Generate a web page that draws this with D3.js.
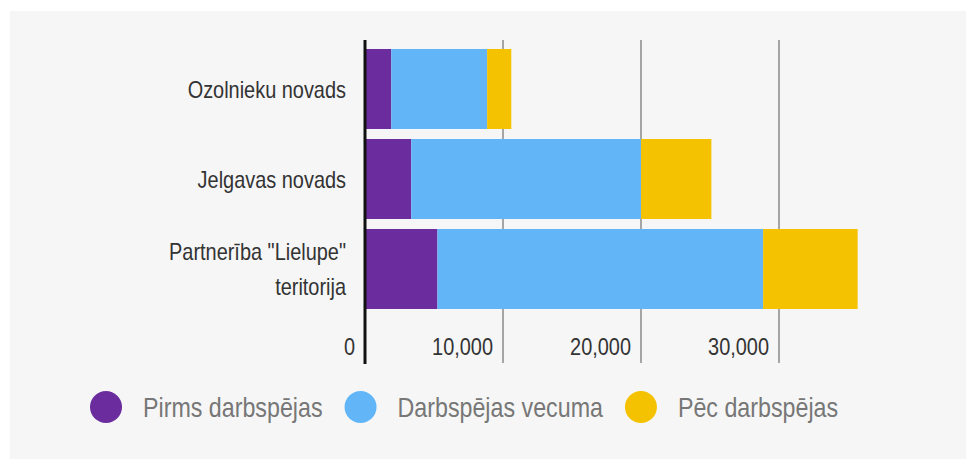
<!DOCTYPE html>
<html>
<head>
<meta charset="utf-8">
<script src="https://cdn.jsdelivr.net/npm/d3@7"></script>
<style>
  html, body { margin: 0; padding: 0; background: #fff; }
  svg text { font-family: "Liberation Sans", Arial, sans-serif; }
</style>
</head>
<body>
<svg id="chart"></svg>
<script>
var categories = ["Ozolnieku novads", "Jelgavas novads", "Partnerība \"Lielupe\" teritorija"];
var seriesNames = ["Pirms darbspējas", "Darbspējas vecuma", "Pēc darbspējas"];
var beforeWork = [1900, 3350, 5250];
var workingAge = [6950, 16650, 23600];
var afterWork = [1750, 5100, 6850];
var xTicks = [0, 10000, 20000, 30000];

var colors = ["#6b2c9e", "#62b6f7", "#f4c200"];

var width = 966, height = 459;
var narrow = 0.83; // squeeze text like a condensed face

var svg = d3.select("#chart")
   .attr("width", width)
   .attr("height", height);

// squeeze text horizontally, keeps it as real text
function condense(sel) {
   sel.each(function() {
      var len = this.getComputedTextLength();
      d3.select(this)
         .attr("textLength", len * narrow)
         .attr("lengthAdjust", "spacingAndGlyphs");
   });
}

// light panel behind the chart
svg.append("rect")
   .attr("x", 10)
   .attr("y", 11)
   .attr("width", width - 10)
   .attr("height", height - 11)
   .attr("fill", "#f6f6f6");

var x = d3.scaleLinear()
   .domain([0, 40000])
   .range([365, 917]);

var y = d3.scaleBand()
   .domain(categories)
   .range([44, 314])
   .paddingInner(10 / 90)
   .paddingOuter(5 / 90);

var rows = categories.map(function(c, i) {
   return { cat: c, values: [beforeWork[i], workingAge[i], afterWork[i]] };
});

var stack = d3.stack().keys([0, 1, 2]).value(function(d, k) { return d.values[k]; });
var layers = stack(rows);

// gridlines
svg.append("g")
   .selectAll("line")
   .data(xTicks.slice(1))
   .enter().append("line")
   .attr("x1", function(d) { return x(d); })
   .attr("x2", function(d) { return x(d); })
   .attr("y1", 40)
   .attr("y2", 363)
   .style("stroke", "#8a8a8a")
   .style("stroke-width", 1.5);

// bars
svg.append("g")
   .selectAll("g")
   .data(layers)
   .enter().append("g")
   .attr("fill", function(d, i) { return colors[i]; })
   .selectAll("rect")
   .data(function(d) { return d; })
   .enter().append("rect")
   .attr("x", function(d) { return x(d[0]); })
   .attr("y", function(d) { return y(d.data.cat); })
   .attr("width", function(d) { return x(d[1]) - x(d[0]); })
   .attr("height", y.bandwidth());

// zero axis
svg.append("line")
   .attr("x1", x(0))
   .attr("x2", x(0))
   .attr("y1", 40)
   .attr("y2", 364)
   .style("stroke", "#111")
   .style("stroke-width", 3);

// tick labels
var fmt = d3.format(",");
svg.append("g")
   .selectAll("text")
   .data(xTicks)
   .enter().append("text")
   .attr("x", function(d) { return x(d) - 10; })
   .attr("y", 355)
   .attr("text-anchor", "end")
   .style("font-size", "24px")
   .style("fill", "#333")
   .text(function(d) { return fmt(d); })
   .call(condense);

// category labels
var labelLines = [["Ozolnieku novads"], ["Jelgavas novads"], ["Partnerība \"Lielupe\"", "teritorija"]];
var labels = svg.append("g")
   .selectAll("text")
   .data(categories)
   .enter().append("text")
   .attr("text-anchor", "end")
   .style("font-size", "24px")
   .style("fill", "#333");

labels.each(function(d, i) {
   var lines = labelLines[i];
   var cy = y(d) + y.bandwidth() / 2;
   var t = d3.select(this);
   lines.forEach(function(line, j) {
      t.append("tspan")
         .attr("x", 346)
         .attr("y", cy + (j - (lines.length - 1) / 2) * 35)
         .attr("dy", "0.36em")
         .text(line);
   });
});
labels.selectAll("tspan").call(condense);

// legend
var legend = svg.append("g");
var cx = 106;
seriesNames.forEach(function(name, i) {
   legend.append("circle")
      .attr("cx", cx)
      .attr("cy", 407)
      .attr("r", 16)
      .attr("fill", colors[i]);
   var t = legend.append("text")
      .attr("x", cx + 37)
      .attr("y", 407)
      .attr("dy", "0.36em")
      .style("font-size", "28px")
      .style("fill", "#777")
      .text(name);
   var len = t.node().getComputedTextLength() * narrow;
   t.attr("textLength", len).attr("lengthAdjust", "spacingAndGlyphs");
   cx = cx + 37 + len + 38;
});
</script>
</body>
</html>
